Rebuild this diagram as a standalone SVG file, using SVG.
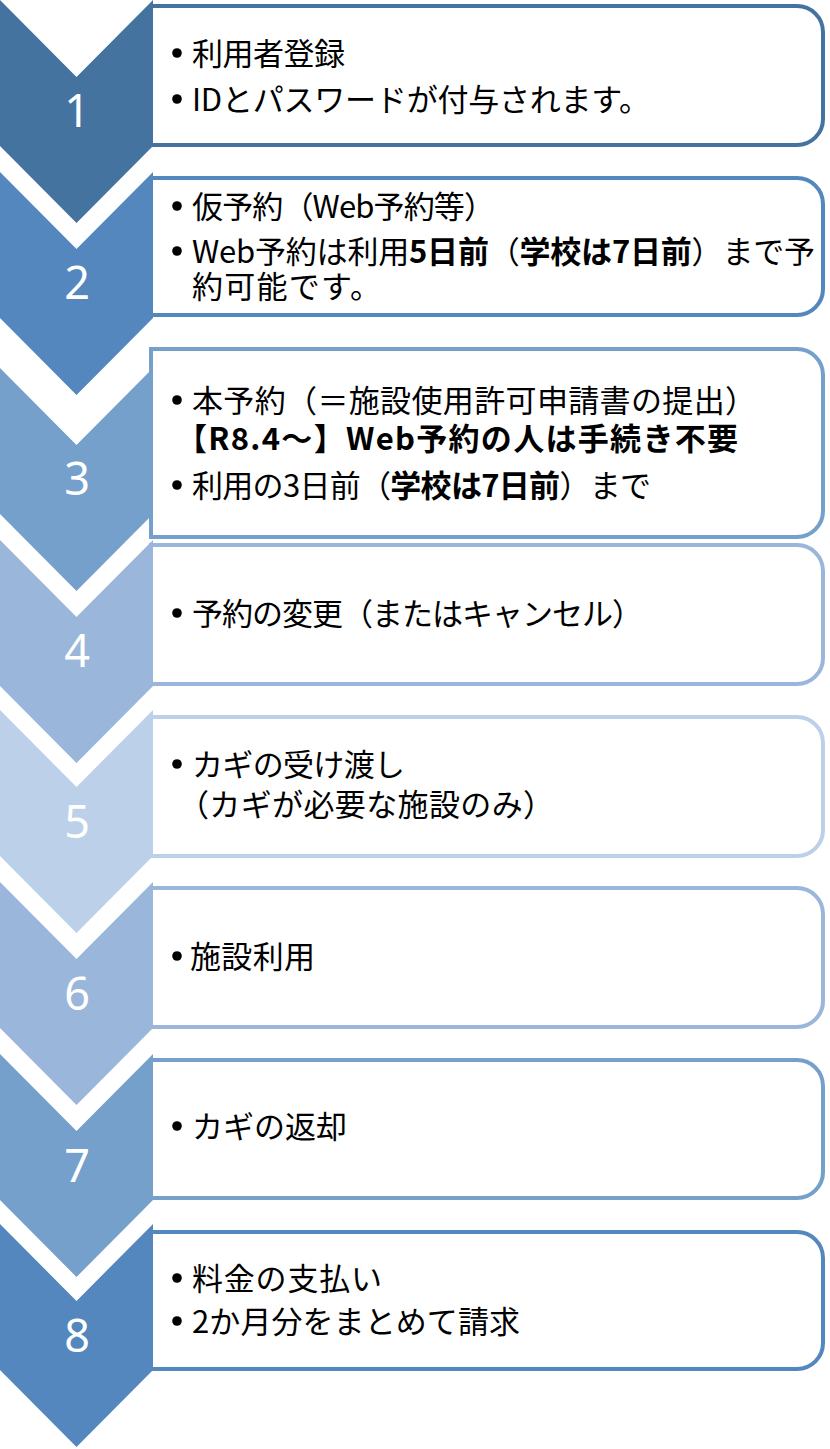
<svg xmlns="http://www.w3.org/2000/svg" width="830" height="1449" viewBox="0 0 830 1449">
<style>
.box{fill:#fff;stroke-width:4}
.num{font-family:"Noto Sans","Open Sans","DejaVu Sans",sans-serif;font-size:45px;fill:#fff;text-anchor:middle}
.t{font-family:"Noto Sans CJK JP","Noto Sans",sans-serif;font-size:31px;fill:#000}
.b{font-weight:bold}
.dot{fill:#000}
.c1{fill:#45739F}.s1{stroke:#45739F}
.c2{fill:#5387BD}.s2{stroke:#5387BD}
.c3{fill:#75A0CC}.s3{stroke:#75A0CC}
.c4{fill:#9AB6DA}.s4{stroke:#9AB6DA}
.c5{fill:#BDD0E9}.s5{stroke:#BDD0E9}
</style>
<defs>
<path id="chev" d="M0,0 L76.5,77 L153,0 L153,146 L76.5,223 L0,146 Z"/>
</defs>
<g id="step1">
<path class="box s1" d="M151,6 H797 A26,26 0 0 1 823,32 V119 A26,26 0 0 1 797,145 H151 Z"/>
<use href="#chev" class="c1" transform="translate(0,0)"/>
<text class="num" x="77" y="127">1</text>
<circle class="dot" cx="177" cy="53" r="4.8"/>
<text class="t" x="192" y="65" textLength="153">利用者登録</text>
<circle class="dot" cx="177" cy="99" r="4.8"/>
<text class="t" x="192" y="111" textLength="458">IDとパスワードが付与されます。</text>
</g>
<g id="step2">
<path class="box s2" d="M151,178 H797 A26,26 0 0 1 823,204 V289 A26,26 0 0 1 797,315 H151 Z"/>
<use href="#chev" class="c2" transform="translate(0,172)"/>
<text class="num" x="77" y="299">2</text>
<circle class="dot" cx="177" cy="206" r="4.8"/>
<text class="t" x="192" y="218" textLength="303">仮予約（Web予約等）</text>
<circle class="dot" cx="177" cy="251" r="4.8"/>
<text class="t"><tspan x="192" y="263" textLength="623">Web予約は利用<tspan class="b">5日前</tspan>（<tspan class="b">学校は7日前</tspan>）まで予</tspan><tspan x="192" y="298" textLength="189">約可能です。</tspan></text>
</g>
<g id="step3">
<path class="box s3" d="M151,349 H797 A26,26 0 0 1 823,375 V511 A26,26 0 0 1 797,537 H151 Z"/>
<use href="#chev" class="c3" transform="translate(0,368)"/>
<text class="num" x="77" y="495">3</text>
<circle class="dot" cx="177" cy="400" r="4.8"/>
<text class="t"><tspan x="192" y="412" textLength="564">本予約（＝施設使用許可申請書の提出）</tspan><tspan class="b" x="176" y="450" textLength="562">【R8.4～】Web予約の人は手続き不要</tspan></text>
<circle class="dot" cx="177" cy="485" r="4.8"/>
<text class="t" x="192" y="497" textLength="459">利用の3日前（<tspan class="b">学校は7日前</tspan>）まで</text>
</g>
<g id="step4">
<path class="box s4" d="M151,545 H797 A26,26 0 0 1 823,571 V658 A26,26 0 0 1 797,684 H151 Z"/>
<use href="#chev" class="c4" transform="translate(0,540)"/>
<text class="num" x="77" y="667">4</text>
<circle class="dot" cx="177" cy="613" r="4.8"/>
<text class="t" x="192" y="625" textLength="451">予約の変更（またはキャンセル）</text>
</g>
<g id="step5">
<path class="box s5" d="M151,717 H797 A26,26 0 0 1 823,743 V830 A26,26 0 0 1 797,856 H151 Z"/>
<use href="#chev" class="c5" transform="translate(0,710)"/>
<text class="num" x="77" y="838">5</text>
<circle class="dot" cx="177" cy="764" r="4.8"/>
<text class="t"><tspan x="192" y="776" textLength="213">カギの受け渡し</tspan><tspan x="178" y="816" textLength="376">（カギが必要な施設のみ）</tspan></text>
</g>
<g id="step6">
<path class="box s4" d="M151,888 H797 A26,26 0 0 1 823,914 V1001 A26,26 0 0 1 797,1027 H151 Z"/>
<use href="#chev" class="c4" transform="translate(0,882)"/>
<text class="num" x="77" y="1010">6</text>
<circle class="dot" cx="177" cy="956" r="4.8"/>
<text class="t" x="190" y="968" textLength="125">施設利用</text>
</g>
<g id="step7">
<path class="box s3" d="M151,1060 H797 A26,26 0 0 1 823,1086 V1172 A26,26 0 0 1 797,1198 H151 Z"/>
<use href="#chev" class="c3" transform="translate(0,1054)"/>
<text class="num" x="77" y="1182">7</text>
<circle class="dot" cx="177" cy="1126" r="4.8"/>
<text class="t" x="192" y="1138" textLength="155">カギの返却</text>
</g>
<g id="step8">
<path class="box s2" d="M151,1232 H797 A26,26 0 0 1 823,1258 V1343 A26,26 0 0 1 797,1369 H151 Z"/>
<use href="#chev" class="c2" transform="translate(0,1224)"/>
<text class="num" x="77" y="1352">8</text>
<circle class="dot" cx="177" cy="1278" r="4.8"/>
<text class="t" x="192" y="1290" textLength="190">料金の支払い</text>
<circle class="dot" cx="177" cy="1321" r="4.8"/>
<text class="t" x="192" y="1333" textLength="328">2か月分をまとめて請求</text>
</g>
<g id="connectors"></g>
</svg>
